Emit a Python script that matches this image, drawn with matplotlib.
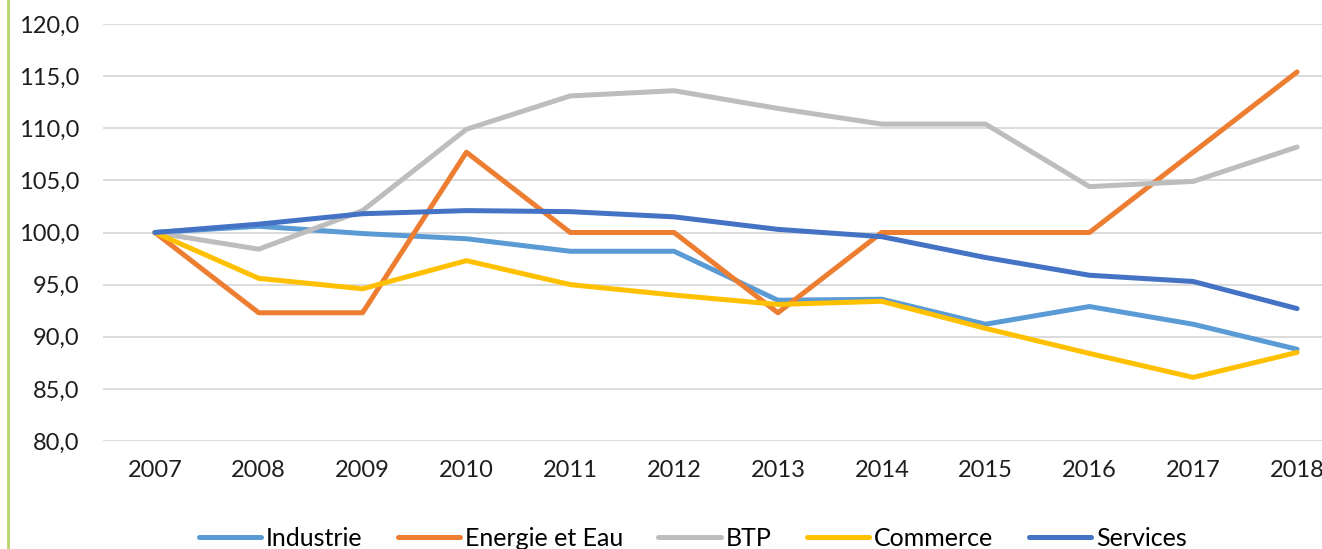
import matplotlib.pyplot as plt
from matplotlib.lines import Line2D
from matplotlib.ticker import FuncFormatter

years = list(range(2007, 2019))

industrie = [100.0, 100.6, 99.9, 99.4, 98.2, 98.2, 93.5, 93.6, 91.2, 92.9, 91.2, 88.8]
energie = [100.0, 92.3, 92.3, 107.7, 100.0, 100.0, 92.3, 100.0, 100.0, 100.0, 107.7, 115.4]
btp = [100.0, 98.4, 102.1, 109.9, 113.1, 113.6, 111.9, 110.4, 110.4, 104.4, 104.9, 108.2]
commerce = [100.0, 95.6, 94.6, 97.3, 95.0, 94.0, 93.1, 93.4, 90.8, 88.4, 86.1, 88.5]
services = [100.0, 100.8, 101.8, 102.1, 102.0, 101.5, 100.3, 99.6, 97.6, 95.9, 95.3, 92.7]

series = [
    ("Industrie", industrie, "#5B9BD5"),
    ("Energie et Eau", energie, "#ED7D31"),
    ("BTP", btp, "#BDBDBD"),
    ("Commerce", commerce, "#FFC000"),
    ("Services", services, "#4472C4"),
]

plt.rcParams['font.family'] = ['Lato', 'DejaVu Sans']

fig = plt.figure(figsize=(13.22, 5.49), dpi=100)
ax = fig.add_axes([103 / 1322, 1 - 441 / 549, 1246 / 1322, 417 / 549])

for name, vals, color in series:
    ax.plot(years, vals, color=color, lw=3.6, label=name, solid_capstyle='round')

ax.set_xlim(2006.5, 2018.5)
ax.set_ylim(80, 120)
ax.set_yticks(range(80, 121, 5))
ax.set_xticks(years)
ax.yaxis.set_major_formatter(FuncFormatter(lambda v, p: f"{v:.1f}".replace(".", ",")))
ax.grid(axis='y', color='#d9d9d9', lw=1.3)
ax.set_axisbelow(True)
for s in ax.spines.values():
    s.set_visible(False)
ax.tick_params(length=0, labelsize=17, colors='#1e1e1e')
ax.tick_params(axis='y', pad=17)
ax.tick_params(axis='x', pad=14)

fig.legend(loc='center', bbox_to_anchor=(0.524, 0.02), ncol=5, frameon=False,
           fontsize=18, handlelength=2.5, handletextpad=0.2, columnspacing=1.4)

fig.add_artist(Line2D([8 / 1322, 8 / 1322], [0, 1], color='#b5d66b', lw=2,
                      transform=fig.transFigure))

fig.savefig("out.png", dpi=100)
